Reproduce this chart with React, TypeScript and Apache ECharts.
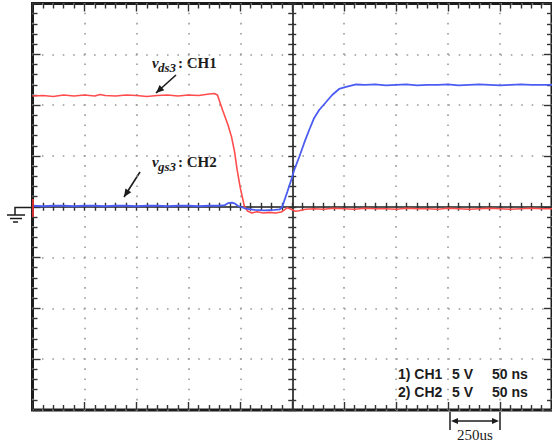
import React, { useEffect, useRef } from "react";
import * as echarts from "echarts";

// Time axis (ns), 50 ns/div, 10 divisions
const timeMin = -250;
const timeMax = 250;
const timeStep = 50;
// Voltage axis (V), 5 V/div, 8 divisions
const voltMin = -20;
const voltMax = 20;
const voltStep = 5;

// CH1: v_ds3 (red) [time ns, volts]
const ch1Trace: number[][] = [
  [-250, 10.9], [-240, 10.95], [-230, 10.85], [-220, 11.0], [-210, 10.9], [-200, 11.0],
  [-190, 10.9], [-185, 11.05], [-180, 10.95], [-170, 10.9], [-160, 11.0], [-150, 10.95],
  [-140, 10.85], [-130, 10.95], [-120, 11.0], [-110, 10.9], [-100, 11.0], [-90, 10.95],
  [-80, 11.1], [-75, 11.15], [-72, 11.0], [-67, 9.5], [-62, 8.1], [-58.5, 6.9],
  [-55.5, 5.4], [-53, 3.6], [-50, 1.85], [-46, 0.0], [-43, -0.42], [-39, -0.62],
  [-34, -0.5], [-28, -0.62], [-22, -0.55], [-16, -0.62], [-10.5, -0.52], [-7.5, -0.3],
  [-5, -0.1], [-1, -0.25], [3, -0.45], [6.5, -0.4], [12.5, -0.25], [21, -0.2],
  [30, -0.25], [40, -0.15], [50, -0.2], [60, -0.25], [70, -0.15], [80, -0.2],
  [90, -0.2], [100, -0.25], [110, -0.15], [120, -0.2], [130, -0.2], [140, -0.25],
  [150, -0.15], [160, -0.2], [170, -0.25], [180, -0.2], [190, -0.15], [200, -0.2],
  [210, -0.25], [220, -0.2], [230, -0.15], [240, -0.2], [250, -0.2],
];

// CH2: v_gs3 (blue) [time ns, volts]
const ch2Trace: number[][] = [
  [-250, 0.1], [-240, 0.05], [-230, 0.1], [-220, 0.1], [-210, 0.05], [-200, 0.1],
  [-190, 0.1], [-180, 0.05], [-170, 0.1], [-160, 0.1], [-150, 0.05], [-140, 0.1],
  [-130, 0.1], [-120, 0.05], [-110, 0.1], [-100, 0.1], [-90, 0.05], [-80, 0.1],
  [-70, 0.1], [-65, 0.15], [-62, 0.35], [-58, 0.4], [-55, 0.3], [-52.5, 0.1],
  [-46, -0.15], [-36.5, -0.3], [-27, -0.35], [-17, -0.3], [-12, -0.25], [-9.6, 0.0],
  [-4.8, 1.45], [-1, 2.63], [1.9, 3.62], [6.7, 4.9], [11.5, 6.28], [16.3, 7.55],
  [21.1, 8.74], [25.9, 9.52], [32.6, 10.31], [38.4, 11.0], [45.1, 11.59], [51.8, 11.79],
  [61.4, 12.03], [70, 12.0], [80, 12.05], [90, 11.95], [100, 12.0], [110, 12.05],
  [120, 11.95], [130, 12.0], [140, 12.0], [150, 12.05], [160, 11.95], [170, 12.0],
  [180, 12.05], [190, 12.0], [200, 11.95], [210, 12.0], [220, 12.05], [230, 12.0],
  [240, 12.0], [250, 12.0],
];

const infoRows = [
  ["1) CH1", "5 V", "50 ns"],
  ["2) CH2", "5 V", "50 ns"],
];
const scaleLabel = "250us";

const GRID = { left: 32.5, top: 3.5, width: 521, height: 406.5 };
const INK = "#1c1c1c";
const SERIF = "'Liberation Serif', 'Times New Roman', serif";
const SANS = "'Liberation Sans', Arial, sans-serif";

function arrowHead(tail: number[], tip: number[], len: number, half: number) {
  const dx = tip[0] - tail[0];
  const dy = tip[1] - tail[1];
  const l = Math.hypot(dx, dy);
  const ux = dx / l, uy = dy / l;
  const bx = tip[0] - ux * len, by = tip[1] - uy * len;
  const px = -uy * half, py = ux * half;
  return [tip, [bx + px, by + py], [bx - px, by - py]];
}

function arrow(tail: number[], tip: number[]) {
  return [
    { type: "line", shape: { x1: tail[0], y1: tail[1], x2: tip[0], y2: tip[1] }, style: { stroke: INK, lineWidth: 1.6 } },
    { type: "polygon", shape: { points: arrowHead(tail, tip, 8, 3.5) }, style: { fill: INK } },
  ];
}

function txt(text: string, x: number, y: number, font: string, align = "left") {
  return {
    type: "text",
    x, y,
    style: { text, font, fill: INK, align, verticalAlign: "middle", textAlign: align, textVerticalAlign: "middle" },
  };
}

export default function App() {
  const ref = useRef<HTMLDivElement>(null);
  useEffect(() => {
    if (!ref.current) return;
    const chart = echarts.init(ref.current, undefined, { renderer: "svg" });

    const tickStyle = { color: "#333", width: 1.4 };
    const borderX = (position: string, split: boolean) => ({
      type: "value", gridIndex: 0, position, min: timeMin, max: timeMax, interval: timeStep,
      axisLine: { show: false, onZero: false },
      axisLabel: { show: false },
      axisTick: { show: true, inside: true, length: 8, lineStyle: tickStyle },
      minorTick: { show: true, splitNumber: 5, length: 5, lineStyle: tickStyle },
      splitLine: split
        ? { show: true, lineStyle: { color: "#9a9a9a", width: 1.6, type: [1.6, 10.1625 - 1.6], dashOffset: 0.8 } }
        : { show: false },
    });
    const borderY = (position: string, split: boolean) => ({
      type: "value", gridIndex: 0, position, min: voltMin, max: voltMax, interval: voltStep,
      axisLine: { show: false, onZero: false },
      axisLabel: { show: false },
      axisTick: { show: true, inside: true, length: 8, lineStyle: tickStyle },
      minorTick: { show: true, splitNumber: 5, length: 5, lineStyle: tickStyle },
      splitLine: split
        ? { show: true, lineStyle: { color: "#9a9a9a", width: 1.6, type: [1.6, 10.42 - 1.6], dashOffset: 0.8 } }
        : { show: false },
    });
    const centerX = (position: string, line: boolean) => ({
      type: "value", gridIndex: 0, position, min: timeMin, max: timeMax, interval: timeStep,
      axisLine: { show: line, onZero: true, onZeroAxisIndex: 0, lineStyle: { color: INK, width: 1.6 } },
      axisLabel: { show: false },
      axisTick: { show: true, inside: true, length: 4, lineStyle: tickStyle },
      minorTick: { show: true, splitNumber: 5, length: 4, lineStyle: tickStyle },
      splitLine: { show: false },
    });
    const centerY = (position: string, line: boolean) => ({
      type: "value", gridIndex: 0, position, min: voltMin, max: voltMax, interval: voltStep,
      axisLine: { show: line, onZero: true, onZeroAxisIndex: 0, lineStyle: { color: INK, width: 1.6 } },
      axisLabel: { show: false },
      axisTick: { show: true, inside: true, length: 4, lineStyle: tickStyle },
      minorTick: { show: true, splitNumber: 5, length: 4, lineStyle: tickStyle },
      splitLine: { show: false },
    });

    const graphics: any[] = [];
    // ground reference symbol
    graphics.push(
      { type: "polyline", shape: { points: [[32, 207.5], [15, 207.5], [15, 215]] }, style: { stroke: INK, lineWidth: 1.5, fill: null } },
      { type: "line", shape: { x1: 7, y1: 215, x2: 25, y2: 215 }, style: { stroke: INK, lineWidth: 1.5 } },
      { type: "line", shape: { x1: 10, y1: 218.5, x2: 22, y2: 218.5 }, style: { stroke: INK, lineWidth: 1.5 } },
      { type: "line", shape: { x1: 13, y1: 222, x2: 18, y2: 222 }, style: { stroke: INK, lineWidth: 1.5 } },
      { type: "line", z: 10, shape: { x1: 33, y1: 199, x2: 33, y2: 217 }, style: { stroke: "#d03030", lineWidth: 2 } },
    );
    // channel labels
    graphics.push(
      txt("v", 152, 63, `italic bold 15px ${SERIF}`),
      txt("ds3", 158, 67.5, `italic bold 13px ${SERIF}`),
      txt(": CH1", 178, 63, `bold 15px ${SERIF}`),
      ...arrow([176, 75], [156, 93]),
      txt("v", 152, 162, `italic bold 15px ${SERIF}`),
      txt("gs3", 158, 166.5, `italic bold 13px ${SERIF}`),
      txt(": CH2", 178, 162, `bold 15px ${SERIF}`),
      ...arrow([140, 172], [124, 197]),
    );
    // scale info
    infoRows.forEach((row, i) => {
      const y = 374 + i * 18;
      graphics.push(
        txt(row[0], 398, y, `bold 14px ${SANS}`),
        txt(row[1], 452, y, `bold 14px ${SANS}`),
        txt(row[2], 492, y, `bold 14px ${SANS}`),
      );
    });
    // 250us marker
    graphics.push(
      { type: "line", shape: { x1: 450, y1: 412, x2: 450, y2: 430 }, style: { stroke: INK, lineWidth: 1.5 } },
      { type: "line", shape: { x1: 500, y1: 412, x2: 500, y2: 430 }, style: { stroke: INK, lineWidth: 1.5 } },
      { type: "line", shape: { x1: 455, y1: 421, x2: 495, y2: 421 }, style: { stroke: INK, lineWidth: 1.5 } },
      { type: "polygon", shape: { points: arrowHead([470, 421], [451, 421], 7, 3) }, style: { fill: INK } },
      { type: "polygon", shape: { points: arrowHead([480, 421], [499, 421], 7, 3) }, style: { fill: INK } },
      txt(scaleLabel, 475, 435, `15px ${SERIF}`, "center"),
    );

    chart.setOption({
      animation: false,
      backgroundColor: "#ffffff",
      grid: { ...GRID, show: true, borderColor: INK, borderWidth: 3, backgroundColor: "transparent", containLabel: false },
      xAxis: [borderX("bottom", true), borderX("top", false), centerX("bottom", true), centerX("top", false)],
      yAxis: [borderY("left", true), borderY("right", false), centerY("left", true), centerY("right", false)],
      series: [
        {
          name: "CH1", type: "line", xAxisIndex: 0, yAxisIndex: 0, data: ch1Trace,
          showSymbol: false, symbol: "none", lineStyle: { color: "#ff4d4d", width: 1.6 }, z: 3,
        },
        {
          name: "CH2", type: "line", xAxisIndex: 0, yAxisIndex: 0, data: ch2Trace,
          showSymbol: false, symbol: "none", lineStyle: { color: "#4a5cf2", width: 1.8 }, z: 4,
        },
      ],
      graphic: { elements: graphics },
    });
    return () => chart.dispose();
  }, []);

  return (
    <div
      ref={ref}
      style={{ position: "fixed", left: 0, top: 0, width: 552, height: 445, background: "#fff" }}
    />
  );
}
